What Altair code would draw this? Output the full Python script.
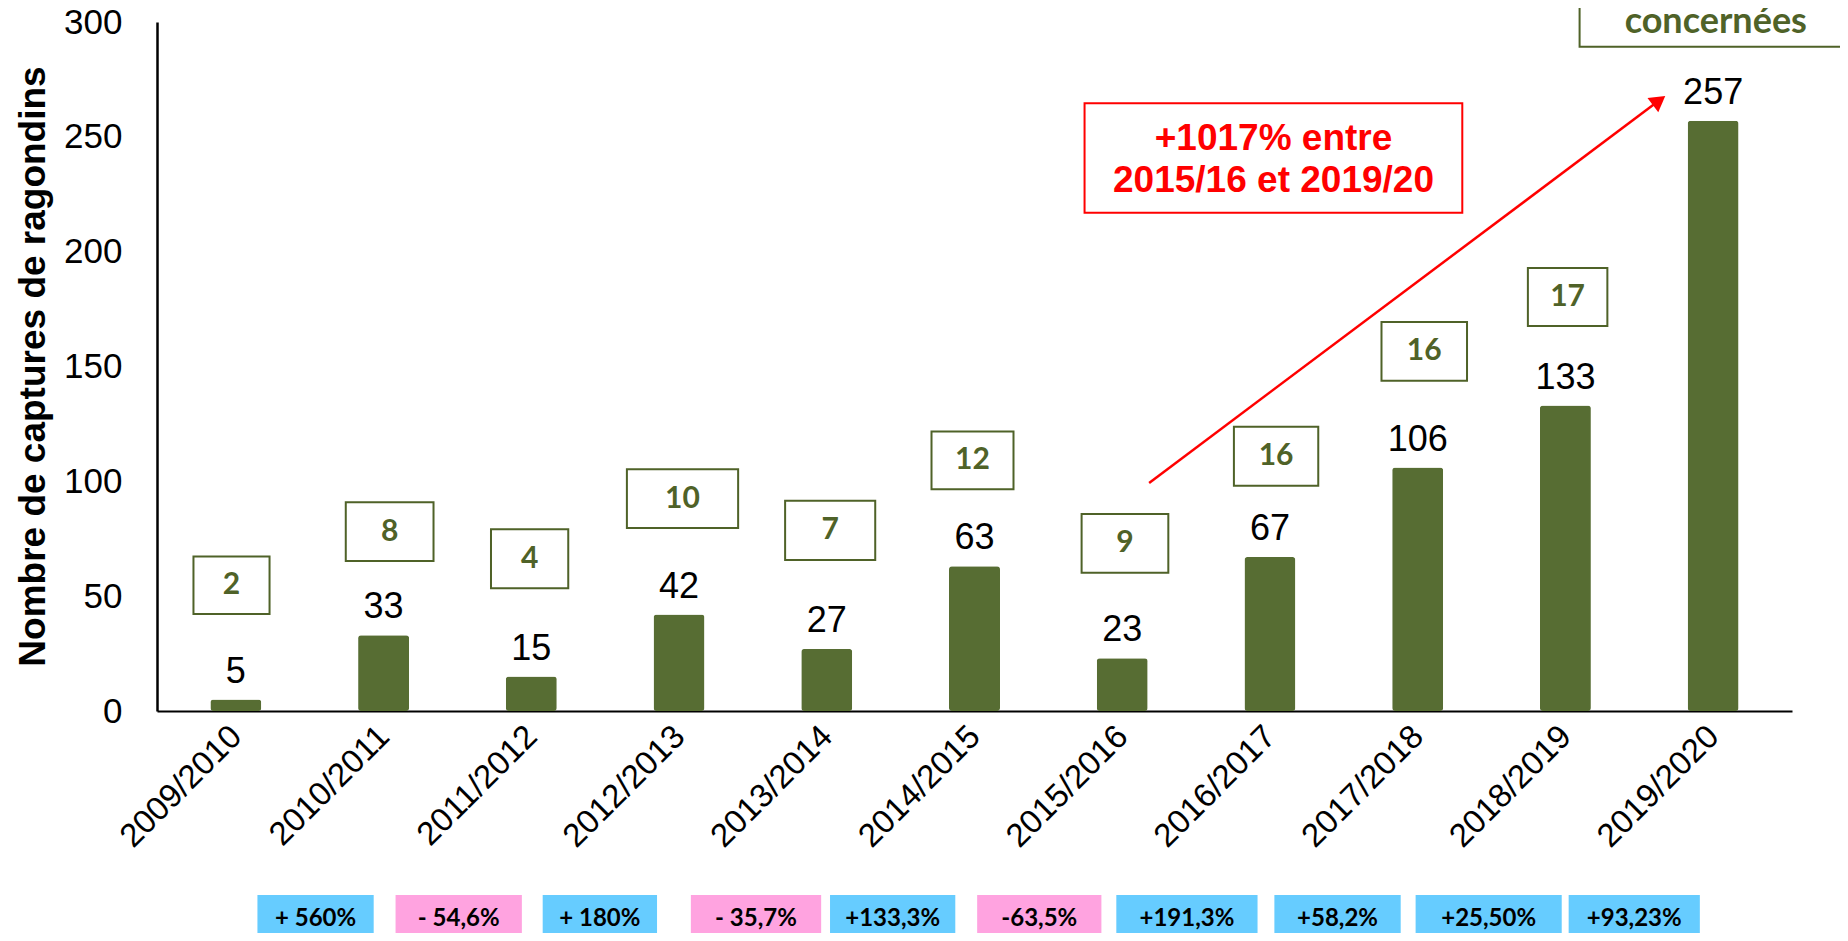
import altair as alt
import pandas as pd

# ---------------- data ----------------
categories = ["2009/2010", "2010/2011", "2011/2012", "2012/2013", "2013/2014",
              "2014/2015", "2015/2016", "2016/2017", "2017/2018", "2018/2019", "2019/2020"]
captures = [5, 33, 15, 42, 27, 63, 23, 67, 106, 133, 257]

# number of communes concerned (green boxes), first ten seasons
communes = [2, 8, 4, 10, 7, 12, 9, 16, 16, 17]
communes_x1 = [-0.287, 0.744, 1.727, 2.647, 3.718, 4.709, 5.725, 6.756, 7.755, 8.746]
communes_x2 = [0.228, 1.338, 2.250, 3.400, 4.328, 5.264, 6.312, 7.327, 8.334, 9.284]
communes_y1 = [42.2, 65.3, 53.5, 79.7, 65.8, 96.6, 60.2, 98.1, 143.8, 167.6]
communes_y2 = [67.3, 90.9, 79.1, 105.3, 91.5, 121.7, 85.8, 123.8, 169.4, 192.9]

# year-on-year variation boxes below the axis
variations = ["+ 560%", "- 54,6%", "+ 180%", "- 35,7%", "+133,3%", "-63,5%",
              "+191,3%", "+58,2%", "+25,50%", "+93,23%"]
var_x1 = [0.146, 1.081, 2.077, 3.080, 4.022, 5.018, 5.960, 7.030, 7.986, 9.022]
var_x2 = [0.933, 1.936, 2.851, 3.962, 4.870, 5.859, 6.916, 7.885, 8.975, 9.910]

# red annotation
note_lines = ["+1017% entre", "2015/16 et 2019/20"]

# ---------------- styling ----------------
GREEN = "#576D33"
DARKGREEN = "#4F6228"
BLUE = "#66CCFF"
PINK = "#FFA3E0"

x_scale = alt.Scale(domain=[-0.5, 10.5], nice=False, zero=False)
y_scale = alt.Scale(domain=[0, 300], nice=False)

label_expr = "[" + ",".join("'%s'" % c for c in categories) + "][datum.value]"

x_axis = alt.Axis(values=list(range(len(categories))), labelExpr=label_expr,
                  labelAngle=-45, labelAlign="right", labelBaseline="middle",
                  labelFont="Liberation Sans", labelFontSize=33, labelColor="black",
                  labelPadding=20, ticks=False, grid=False, domainColor="black",
                  domainWidth=2, title=None, labelOverlap=False, labelBound=False,
                  labelFlush=False)
y_axis = alt.Axis(values=[0, 50, 100, 150, 200, 250, 300],
                  labelFont="Liberation Sans", labelFontSize=35, labelColor="black",
                  labelPadding=35, ticks=False, grid=False, domainColor="black",
                  domainWidth=2.5, title="Nombre de captures de ragondins",
                  titleFont="Liberation Sans", titleFontSize=37, titleFontWeight="bold",
                  titleColor="black", titleAngle=-90, titleX=-124, titleY=344,
                  titleAlign="center", titleBaseline="middle")


def X(field):
    return alt.X(field, type="quantitative", scale=x_scale, axis=x_axis)


def Y(field):
    return alt.Y(field, type="quantitative", scale=y_scale, axis=y_axis)


bars_df = pd.DataFrame({"idx": list(range(len(categories))), "season": categories,
                        "captures": captures})

bars = alt.Chart(bars_df).mark_bar(size=51, color=GREEN, cornerRadius=3).encode(
    x=X("idx"), y=Y("captures"),
)

values = alt.Chart(bars_df).mark_text(font="Liberation Sans", fontSize=36, color="black",
                                      baseline="alphabetic", dy=-17).encode(
    x=X("idx"), y=Y("captures"), text="captures:Q",
)

com_df = pd.DataFrame({"n": communes, "x1": communes_x1, "x2": communes_x2,
                       "y1": communes_y1, "y2": communes_y2})
com_df["xc"] = (com_df["x1"] + com_df["x2"]) / 2
com_df["yc"] = (com_df["y1"] + com_df["y2"]) / 2

com_boxes = alt.Chart(com_df).mark_rect(fill="white", stroke=DARKGREEN, strokeWidth=2).encode(
    x=X("x1"), x2="x2:Q", y=Y("y1"), y2="y2:Q",
)
com_text = alt.Chart(com_df).mark_text(font="Lato", fontSize=30, fontWeight="bold",
                                       color=DARKGREEN, baseline="middle").encode(
    x=X("xc"), y=Y("yc"), text="n:N",
)

var_df = pd.DataFrame({"label": variations, "x1": var_x1, "x2": var_x2})
var_df["xc"] = (var_df["x1"] + var_df["x2"]) / 2
var_df["fill"] = [PINK if s.startswith("-") else BLUE for s in variations]
var_df["y1"] = -80.1
var_df["y2"] = -102.0
var_df["yt"] = -90.6

var_boxes = alt.Chart(var_df).mark_rect().encode(
    x=X("x1"), x2="x2:Q", y=Y("y1"), y2="y2:Q",
    fill=alt.Fill("fill:N", scale=None),
)
var_text = alt.Chart(var_df).mark_text(font="Lato", fontSize=24, fontWeight="bold",
                                       color="black", baseline="middle").encode(
    x=X("xc"), y=Y("yt"), text="label:N",
)

# red note box + arrow
note_box_df = pd.DataFrame({"x1": [5.745], "x2": [8.302], "y1": [216.9], "y2": [264.6]})
note_box = alt.Chart(note_box_df).mark_rect(fill="white", stroke="#FF0000", strokeWidth=2).encode(
    x=X("x1"), x2="x2:Q", y=Y("y1"), y2="y2:Q",
)
note_df = pd.DataFrame({"t": note_lines, "x": [7.024, 7.024], "y": [244.2, 226.1]})
note_text = alt.Chart(note_df).mark_text(font="Liberation Sans", fontSize=37, fontWeight="bold",
                                         color="#FF0000", baseline="alphabetic").encode(
    x=X("x"), y=Y("y"), text="t:N",
)
arrow_df = pd.DataFrame({"x": [6.182], "y": [99.3], "x2": [9.634], "y2": [265.8]})
arrow_line = alt.Chart(arrow_df).mark_rule(color="#FF0000", strokeWidth=2.5).encode(
    x=X("x"), x2="x2:Q", y=Y("y"), y2="y2:Q",
)
arrow_head = alt.Chart(arrow_df).mark_point(shape="triangle-up", filled=True, color="#FF0000",
                                            opacity=1, size=320, angle=53).encode(
    x=X("x2"), y=Y("y2"),
)

# legend-like box (cut at the top-right corner)
leg_box_df = pd.DataFrame({"x1": [9.096], "x2": [12.5], "y1": [289.2], "y2": [340.0]})
leg_box = alt.Chart(leg_box_df).mark_rect(fill="white", stroke=DARKGREEN, strokeWidth=2).encode(
    x=X("x1"), x2="x2:Q", y=Y("y1"), y2="y2:Q",
)
leg_text_df = pd.DataFrame({"t": ["concernées"], "x": [10.018], "y": [295.0]})
leg_text = alt.Chart(leg_text_df).mark_text(font="Lato", fontSize=36, fontWeight="bold",
                                            color=DARKGREEN, baseline="alphabetic").encode(
    x=X("x"), y=Y("y"), text="t:N",
)

chart = alt.layer(
    bars, values, com_boxes, com_text, var_boxes, var_text,
    arrow_line, arrow_head, note_box, note_text, leg_box, leg_text,
).properties(
    width=1635, height=689,
    autosize=alt.AutoSizeParams(type="none"),
    padding={"left": 149, "top": 14, "right": 48, "bottom": 222},
    background="white",
).configure_view(stroke=None)

chart.save("out.html", embed_options={"renderer": "svg", "actions": False})
